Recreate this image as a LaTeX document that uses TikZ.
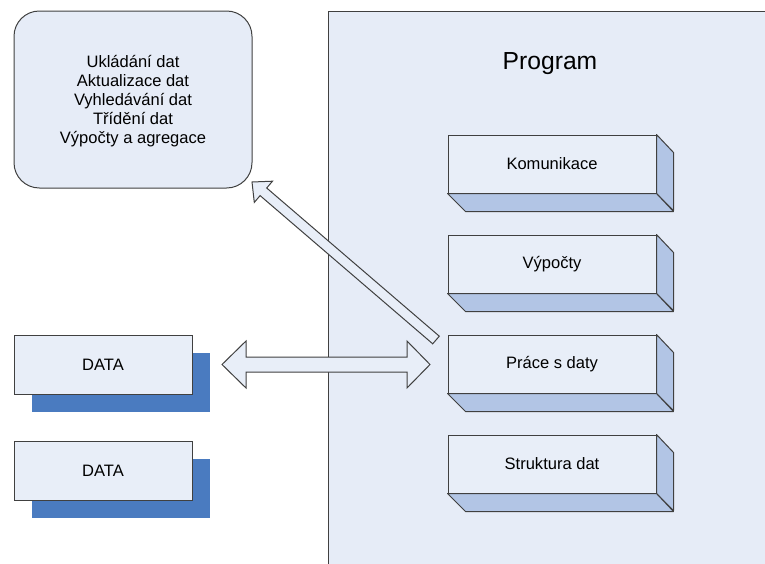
\documentclass[tikz,border=0pt]{standalone}
\usepackage{fontspec}
\setmainfont{Liberation Sans}
\definecolor{progbg}{RGB}{230,236,247}
\definecolor{facebg}{RGB}{232,238,248}
\definecolor{sidebg}{RGB}{178,197,229}
\definecolor{shadowblue}{RGB}{74,123,192}
\definecolor{edge}{RGB}{64,64,64}
\begin{document}
\begin{tikzpicture}[x=0.75pt, y=-0.75pt,
    every node/.style={font=\fontsize{12.4}{14.25}\selectfont},
    frontface/.style={draw=edge, fill=facebg, line width=0.75pt, minimum width=156pt, minimum height=43.5pt, inner sep=0pt},
    sideface/.style={draw=edge, fill=sidebg, line width=0.75pt, line join=round},
    databox/.style={draw=edge, fill=facebg, line width=0.75pt, minimum width=133.5pt, minimum height=44.25pt, inner sep=0pt},
    blockarrow/.style={draw=edge, fill=facebg, line width=0.75pt, line join=miter}]
    \useasboundingbox (0,0) rectangle (765,564);
    \clip (0,0) rectangle (765,564);

    % Program area
    \draw[draw=edge, fill=progbg, line width=0.75pt] (328,11) rectangle (800,600);
    \node[font=\fontsize{18.5}{22}\selectfont] (prog) at (550,64) {Program};

    % Operations box
    \node[draw=edge, fill=progbg, line width=0.75pt, rounded corners=19pt,
          minimum width=178.5pt, minimum height=132.75pt] (ops) at (133,99.5) {};
    \node[align=center] (opstext) at (133,101.5)
        {Ukládání dat\\Aktualizace dat\\Vyhledávání dat\\Třídění dat\\Výpočty a agregace};

    % Program parts (3D blocks)
    \foreach \y/\name/\txt in {164/kom/Komunikace, 264/vyp/Výpočty, 364/prace/Práce s daty, 464/strukt/Struktura dat} {
        \node[frontface] (\name) at (552,\y) {\txt};
        \draw[sideface] (\name.north east) -- ++(17,18) -- ++(0,58) -- (\name.south east) -- cycle;
        \draw[sideface] (\name.south west) -- (\name.south east) -- ++(17,18) -- ++(-208,0) -- cycle;
    }

    % Data stores
    \foreach \y/\name in {364.5/data1, 470.5/data2} {
        \fill[shadowblue] (14,\y) ++(18,-11.5) rectangle ++(178,59);
        \node[databox] (\name) at (103,\y) {DATA};
    }

    % Double arrow between data and program
    \coordinate (dl) at (222,364.5);
    \coordinate (dr) at (430,364.5);
    \draw[blockarrow] (dl) -- ++(24,-23.5) -- ++(0,16) -- ++(161,0) -- ++(0,-16) -- (dr)
        -- ++(-23,23.5) -- ++(0,-16) -- ++(-161,0) -- ++(0,16) -- cycle;

    % Arrow to operations box
    \draw[blockarrow] (439.3,336.2) -- (266.7,188.0) -- (272.5,181.2) -- (252,182)
        -- (254.3,202.4) -- (260.1,195.6) -- (432.7,343.8) -- cycle;
\end{tikzpicture}
\end{document}
